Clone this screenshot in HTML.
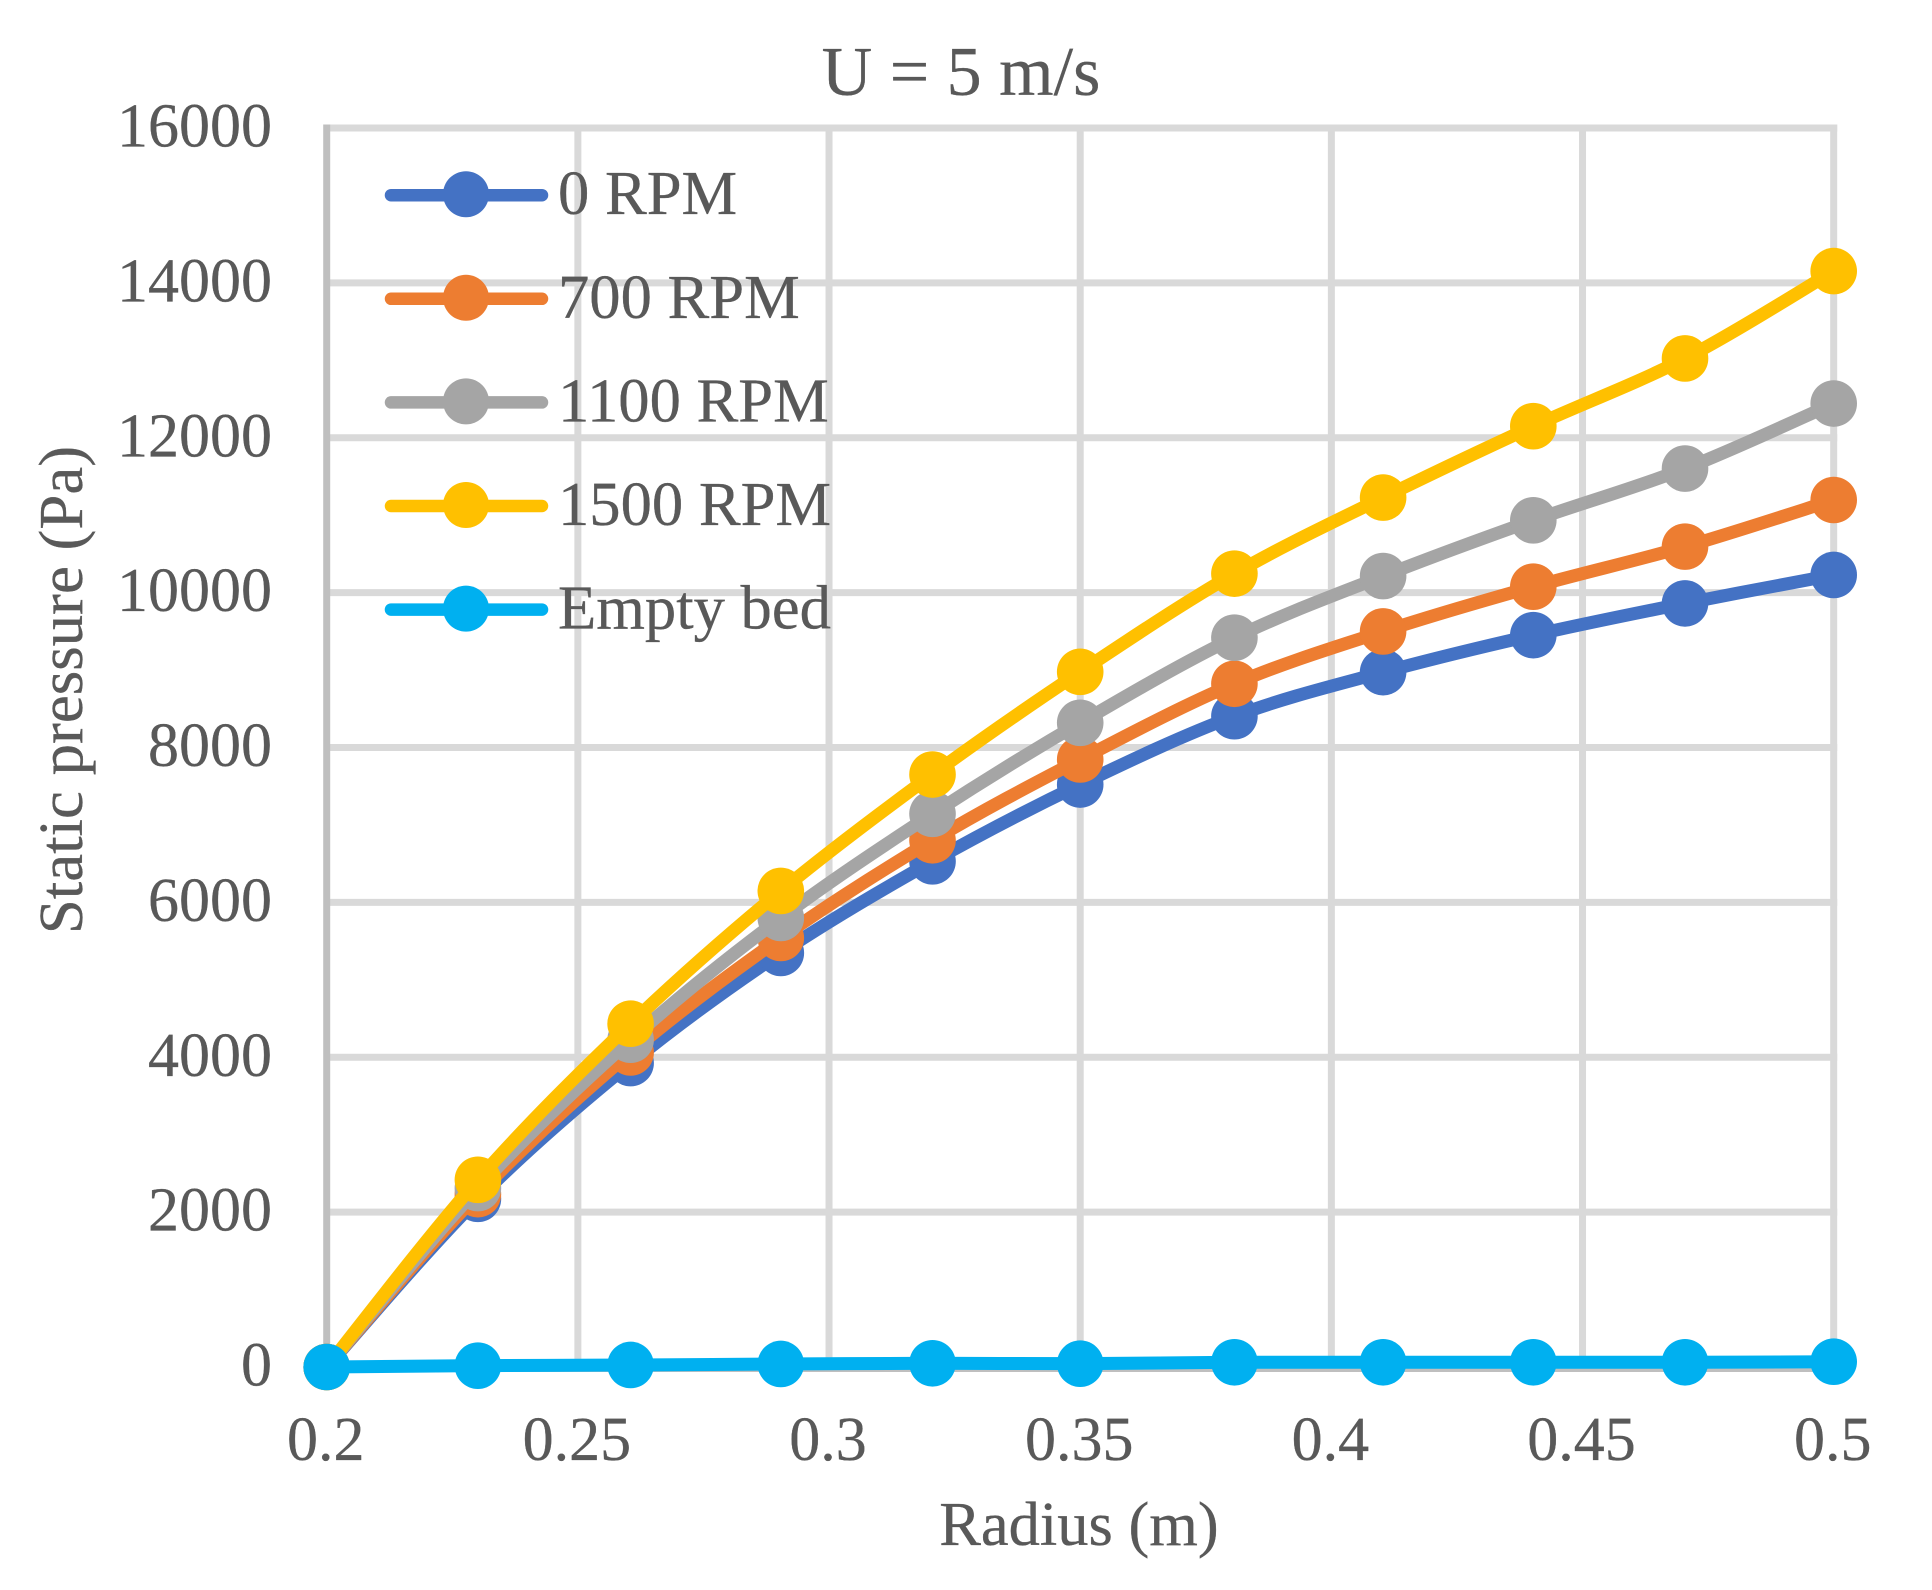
<!DOCTYPE html>
<html lang="en">
<head>
<meta charset="utf-8">
<title>U = 5 m/s static pressure chart</title>
<style>
html,body{margin:0;padding:0;background:#fff;width:1932px;height:1590px;overflow:hidden}
svg{display:block}
text{font-family:"Liberation Serif",serif;fill:#595959;font-size:62px;stroke:#595959;stroke-width:0.3px}
</style>
</head>
<body>
<svg id="chart" xmlns="http://www.w3.org/2000/svg" width="1932" height="1590" viewBox="0 0 1932 1590">
  <rect x="0" y="0" width="1932" height="1590" fill="#ffffff"/>
  <g id="grid"></g>
  <g id="axes"></g>
  <g id="series"></g>
  <g id="legend"></g>
  <g id="ticks"></g>
  <text x="961" y="95" text-anchor="middle" style="font-size:70px">U = 5 m/s</text>
  <text x="1079" y="1545" text-anchor="middle" style="font-size:62.5px">Radius (m)</text>
  <text text-anchor="middle" transform="translate(82 690) rotate(-90)" style="font-size:62.8px">Static pressure (Pa)</text>
</svg>
<script>
const radius = [0.2, 0.2301, 0.2605, 0.2904, 0.3206, 0.35, 0.3807, 0.4103, 0.4402, 0.4704, 0.5];
const rpm0 = [0, 2171, 3925, 5347, 6530, 7522, 8404, 8973, 9451, 9861, 10228];
const rpm700 = [0, 2232, 4062, 5540, 6802, 7845, 8823, 9499, 10077, 10594, 11196];
const rpm1100 = [0, 2310, 4226, 5799, 7143, 8319, 9418, 10214, 10934, 11602, 12442];
const rpm1500 = [0, 2417, 4433, 6148, 7651, 8977, 10245, 11227, 12149, 13024, 14152];
const emptyBed = [0, 17, 26, 39, 48, 43, 61, 61, 61, 61, 68];
const seriesNames = ['0 RPM', '700 RPM', '1100 RPM', '1500 RPM', 'Empty bed'];
const seriesColors = ['#4472c4', '#ed7d31', '#a5a5a5', '#ffc000', '#00b0f0'];
const seriesValues = [rpm0, rpm700, rpm1100, rpm1500, emptyBed];
const xTicks = [0.2, 0.25, 0.3, 0.35, 0.4, 0.45, 0.5];
const yTicks = [0, 2000, 4000, 6000, 8000, 10000, 12000, 14000, 16000];

const NS = 'http://www.w3.org/2000/svg';
const plotLeft = 326.7, plotRight = 1833.7, plotTop = 128, plotBottom = 1367;
const xMin = 0.2, xMax = 0.5, yMin = 0, yMax = 16000;
function xScale(v) { return plotLeft + (v - xMin) / (xMax - xMin) * (plotRight - plotLeft); }
function yScale(v) { return plotBottom - (v - yMin) / (yMax - yMin) * (plotBottom - plotTop); }
function make(tag, attrs, parent) {
  const el = document.createElementNS(NS, tag);
  for (const k in attrs) el.setAttribute(k, attrs[k]);
  parent.appendChild(el);
  return el;
}
function smoothPath(pts) {
  let d = 'M' + pts[0][0] + ' ' + pts[0][1];
  for (let i = 0; i < pts.length - 1; i++) {
    const p0 = pts[i - 1] || pts[i], p1 = pts[i], p2 = pts[i + 1], p3 = pts[i + 2] || p2;
    const c1x = p1[0] + (p2[0] - p0[0]) / 6, c1y = p1[1] + (p2[1] - p0[1]) / 6;
    const c2x = p2[0] - (p3[0] - p1[0]) / 6, c2y = p2[1] - (p3[1] - p1[1]) / 6;
    d += 'C' + c1x + ' ' + c1y + ' ' + c2x + ' ' + c2y + ' ' + p2[0] + ' ' + p2[1];
  }
  return d;
}

const gridG = document.getElementById('grid');
const axesG = document.getElementById('axes');
const ticksG = document.getElementById('ticks');
const seriesG = document.getElementById('series');
const legendG = document.getElementById('legend');

xTicks.forEach(function (t) {
  const x = xScale(t);
  if (t !== xMin) {
    const line = make('line', { x1: x, x2: x, y1: plotTop - 3.5, y2: plotBottom, stroke: '#d9d9d9', 'stroke-width': 7 }, gridG);
    
    
  }
  const label = make('text', { x: x - 1, y: 1460, 'text-anchor': 'middle' }, ticksG);
  label.textContent = String(t);
  
  
});
yTicks.forEach(function (t) {
  const y = yScale(t);
  if (t !== yMin) {
    const line = make('line', { x1: plotLeft, x2: plotRight + 3.5, y1: y, y2: y, stroke: '#d9d9d9', 'stroke-width': 7 }, gridG);
    
    
  }
  const label = make('text', { x: 272, y: y + 18.5, 'text-anchor': 'end' }, ticksG);
  label.textContent = String(t);
  
  
});
const xAxis = make('line', { x1: plotLeft - 3.5, x2: plotRight + 3.5, y1: plotBottom + 1.5, y2: plotBottom + 1.5, stroke: '#bfbfbf', 'stroke-width': 7 }, axesG);


const yAxis = make('line', { x1: plotLeft, x2: plotLeft, y1: plotTop - 3.5, y2: plotBottom + 1.5, stroke: '#bfbfbf', 'stroke-width': 7 }, axesG);



seriesValues.forEach(function (vals, s) {
  const g = make('g', {}, seriesG);
  
  
  const pts = vals.map(function (v, i) { return [xScale(radius[i]), yScale(v)]; });
  const path = make('path', { d: smoothPath(pts), fill: 'none', stroke: seriesColors[s], 'stroke-width': 13, 'stroke-linecap': 'round', 'stroke-linejoin': 'round' }, g);
  
  
  pts.forEach(function (p) {
    const dot = make('circle', { cx: p[0], cy: p[1], r: 23.3, fill: seriesColors[s] }, g);
    
    
  });
});

seriesNames.forEach(function (name, s) {
  const cy = 195.2 + s * 103.6;
  const g = make('g', {}, legendG);
  
  
  const sw = make('line', { x1: 391, x2: 542, y1: cy, y2: cy, stroke: seriesColors[s], 'stroke-width': 12.5, 'stroke-linecap': 'round' }, g);
  
  
  const dot = make('circle', { cx: 466, cy: cy - 1, r: 23, fill: seriesColors[s] }, g);
  
  
  const label = make('text', { x: 558, y: cy + 19 }, g);
  label.textContent = name;
  label.style.fontSize = '62.6px';
  
  
});
</script>
</body>
</html>
